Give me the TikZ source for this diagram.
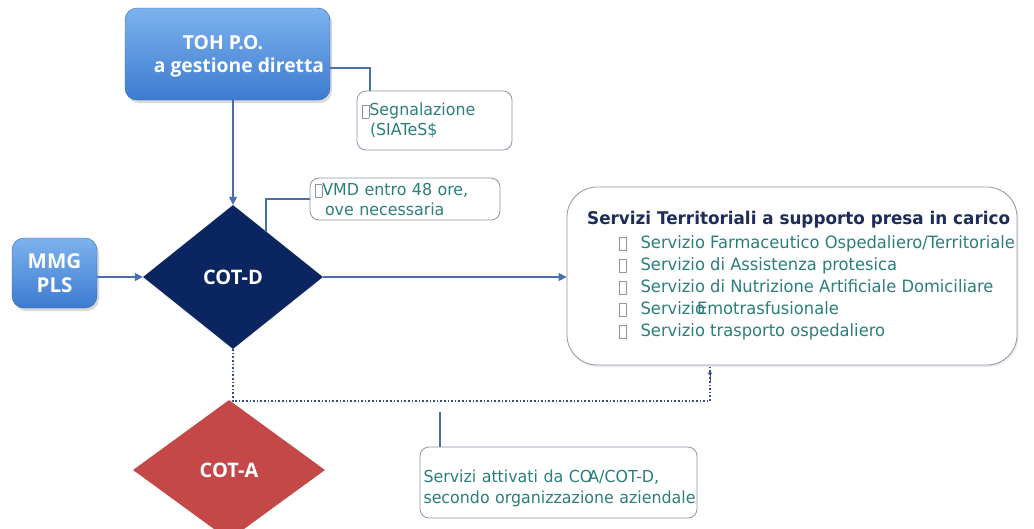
\documentclass[tikz,border=0pt]{standalone}
\usepackage{fontspec}
\setmainfont{DejaVu Sans}[FakeStretch=0.96]
\newfontfamily\labfont{Open Sans}
\usetikzlibrary{shapes.geometric,arrows.meta,shadows}
\definecolor{boxtop}{HTML}{7DB2EE}
\definecolor{boxbot}{HTML}{3C7BD0}
\definecolor{navy}{HTML}{0B2560}
\definecolor{cotared}{HTML}{C44848}
\definecolor{teal}{HTML}{2B7F7A}
\definecolor{titlecol}{HTML}{1E2C5C}
\definecolor{linkcol}{HTML}{4A6DAE}
\definecolor{frame}{HTML}{8C96A6}
\definecolor{dotcol}{HTML}{3A4E86}
% hollow bullet box in front of list entries
\newcommand{\bul}{{\color{frame}\setlength\fboxsep{0pt}\setlength\fboxrule{0.7pt}%
  \raisebox{-2pt}{\fbox{\rule{0pt}{12pt}\hspace{6pt}}}}}
\tikzset{
  bluebox/.style={rounded corners=12pt, top color=boxtop, bottom color=boxbot,
    draw=boxbot!80!black, line width=0.4pt, text=white, align=center,
    font=\labfont\bfseries\fontsize{19.3}{23}\selectfont, inner sep=0pt,
    drop shadow={shadow xshift=2pt, shadow yshift=-3pt, opacity=0.25, fill=black!60}},
  decision/.style={diamond, inner sep=0pt, text=white,
    font=\labfont\bfseries\fontsize{20}{22}\selectfont},
  notebox/.style={rounded corners=9pt, draw=frame, line width=0.8pt, fill=white,
    text=teal, align=left, inner sep=0pt},
  link/.style={draw=linkcol, line width=1.3pt},
  flow/.style={link, -{Triangle[length=8pt,width=8pt]}},
  dotlink/.style={draw=dotcol, line width=1.6pt, dotted}
}
\begin{document}
\begin{tikzpicture}[x=1pt,y=-1pt]
\useasboundingbox (0,0) rectangle (1034,528);

% source boxes
\node[bluebox, minimum width=205pt, minimum height=92pt] (toh) at (227.5,54)
  {\rule{0pt}{19pt}\hspace*{-9pt}TOH P.O.\\\hspace*{23pt}a gestione diretta};
\node[bluebox, minimum width=85pt, minimum height=70pt, font=\labfont\bfseries\fontsize{20.5}{24}\selectfont] (mmg) at (54.5,273)
  {MMG\\PLS};

% decision diamonds
\node[decision, fill=navy, minimum width=180pt, minimum height=144pt] (cotd) at (233,277) {COT-D};
\node[decision, fill=cotared, minimum width=192pt, minimum height=140pt] (cota) at (229,470) {COT-A};

% annotation boxes
\node[notebox, minimum width=155pt, minimum height=59pt, text width=145pt,
      font=\fontsize{16.5}{20}\selectfont] (seg) at (434.5,120.5)
  {\bul Segnalazione\\\hspace*{8pt}(SIATeS\$};
\node[notebox, minimum width=190pt, minimum height=42pt, text width=180pt,
      font=\fontsize{16.5}{20}\selectfont] (vmd) at (405,199)
  {\bul VMD entro 48 ore,\\\hspace*{10pt}ove necessaria};
\node[notebox, rounded corners=30pt, minimum width=450pt, minimum height=178pt,
      drop shadow={shadow xshift=1.5pt, shadow yshift=-2pt, opacity=0.15, fill=black!50}] (serv) at (792,276) {};
\node[anchor=west, text=titlecol, inner sep=0pt, font=\bfseries\fontsize{17.5}{20}\selectfont] (servtitle) at (587,220)
  {Servizi Territoriali a supporto presa in carico};
\node[anchor=north west, text=teal, align=left, inner sep=0pt,
      font=\fontsize{17}{22}\selectfont] (servlist) at (619,235)
  {\bul\hspace{14pt}Servizio Farmaceutico Ospedaliero/Territoriale\\
   \bul\hspace{14pt}Servizio di Assistenza protesica\\
   \bul\hspace{14pt}Servizio di Nutrizione Artificiale Domiciliare\\
   \bul\hspace{14pt}Servizio\kern-8pt Emotrasfusionale\\
   \bul\hspace{14pt}Servizio trasporto ospedaliero};
\node[notebox, minimum width=277pt, minimum height=71pt, text width=270pt,
      font=\fontsize{16.5}{21}\selectfont] (att) at (558.5,482.5)
  {\rule{0pt}{24pt}\mbox{Servizi attivati da CO\kern-4pt A/COT-D,}\\\mbox{secondo organizzazione aziendale}};

% main flow
\draw[flow] (toh.south -| cotd.north) -- (cotd.north);
\draw[flow] (mmg.east |- cotd.west) -- (cotd.west);
\draw[flow] (cotd.east) -- (cotd.east -| serv.west);

% annotation leaders
\coordinate (segbend) at (370,68);
\draw[link] (toh.east |- segbend) -- (segbend) -- (segbend |- seg.north);
\coordinate (vmdfoot) at (266,232);
\draw[link] (vmdfoot) -- (vmdfoot |- vmd.west) -- (vmd.west);
\coordinate (attfoot) at (440,412);
\draw[link] (attfoot) -- (attfoot |- att.north);

% dotted activation path
\coordinate (dotturn) at (710,401);
\draw[dotlink] (cotd.south) -- (cotd.south |- dotturn) -- (dotturn) -- (dotturn |- serv.south);
\draw[dotcol, line width=1pt, -{Triangle[length=4pt,width=4pt,open]}] (710,382) -- (710,370);
\end{tikzpicture}
\end{document}
